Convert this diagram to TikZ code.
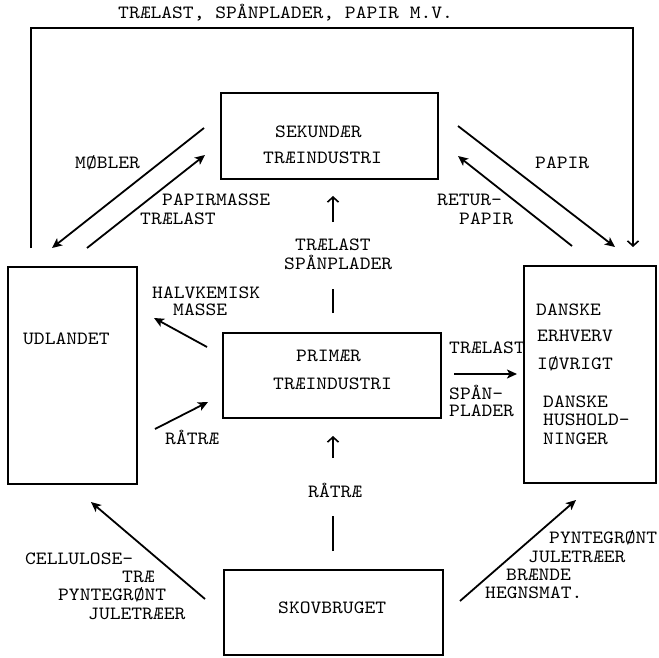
\documentclass[tikz,border=0pt]{standalone}
\usepackage{fontspec}
\setmonofont{lmmono10-regular.otf}[FakeStretch=1.1]
\usetikzlibrary{arrows.meta}
\begin{document}
\begin{tikzpicture}[x=1pt,y=-1pt,
  box/.style={draw,line width=2.2pt,inner sep=0pt,minimum width=#1},
  txt/.style={anchor=base west,inner sep=0pt,font=\fontsize{18.7}{20}\selectfont\ttfamily},
  flow/.style={line width=1.8pt,-{Stealth[length=10pt,width=9pt,inset=2.5pt]}},
  vflow/.style={line width=1.6pt,-{Straight Barb[length=5pt,width=11pt,line width=1.6pt]}},
  plain/.style={line width=1.6pt}]
\useasboundingbox (0,0) rectangle (659,658);
% boxes
\node[box=217pt,minimum height=86pt] (sek) at (329.5,136) {};
\node[box=129pt,minimum height=217pt] (udl) at (72.5,375.5) {};
\node[box=218pt,minimum height=85pt] (pri) at (332,375.5) {};
\node[box=219pt,minimum height=85pt] (skov) at (333.5,612.5) {};
\node[box=132pt,minimum height=217pt] (dan) at (590,374.5) {};
% box texts
\node[txt] (t1) at (275,138) {SEKUNDÆR};
\node[txt] (t2) at (263,164) {TRÆINDUSTRI};
\node[txt] (t3) at (296,361) {PRIMÆR};
\node[txt] (t4) at (273,389) {TRÆINDUSTRI};
\node[txt] (t5) at (278,613) {SKOVBRUGET};
\node[txt] (t6) at (23,344) {UDLANDET};
\node[txt] (t7) at (536,315) {DANSKE};
\node[txt] (t8) at (537,341) {ERHVERV};
\node[txt] (t9) at (537,369) {IØVRIGT};
\node[txt] (t10) at (543,407) {DANSKE};
\node[txt] (t11) at (543,425) {HUSHOLD-};
\node[txt] (t12) at (543,444) {NINGER};
% labels
\node[txt] (l0) at (118,19) {TRÆLAST, SPÅNPLADER, PAPIR M.V.};
\node[txt] (l1) at (75,169) {MØBLER};
\node[txt] (l2) at (162,205) {PAPIRMASSE};
\node[txt] (l3) at (140,224) {TRÆLAST};
\node[txt] (l4) at (295,251) {TRÆLAST};
\node[txt] (l5) at (284,269) {SPÅNPLADER};
\node[txt] (l6) at (535,168) {PAPIR};
\node[txt] (l7) at (437,205) {RETUR-};
\node[txt] (l8) at (459,224) {PAPIR};
\node[txt] (l9) at (152,298) {HALVKEMISK};
\node[txt] (l10) at (173,315) {MASSE};
\node[txt] (l11) at (449,353) {TRÆLAST};
\node[txt] (l12) at (449,399) {SPÅN-};
\node[txt] (l13) at (449,416) {PLADER};
\node[txt] (l14) at (165,444) {RÅTRÆ};
\node[txt] (l15) at (308,497) {RÅTRÆ};
\node[txt] (l16) at (25,564) {CELLULOSE-};
\node[txt] (l17) at (122,582) {TRÆ};
\node[txt] (l18) at (58,600) {PYNTEGRØNT};
\node[txt] (l19) at (88,619) {JULETRÆER};
\node[txt] (l20) at (549,543) {PYNTEGRØNT};
\node[txt] (l21) at (528,562) {JULETRÆER};
\node[txt] (l22) at (506,580) {BRÆNDE};
\node[txt] (l23) at (485,598) {HEGNSMAT.};
% coordinates
\coordinate (fL) at (31,248);
\coordinate (fTL) at (31,28);
\coordinate (fTR) at (633,28);
\coordinate (fR) at (633,247);
\coordinate (a1s) at (204,128); \coordinate (a1e) at (52,248);
\coordinate (a2s) at (87,248); \coordinate (a2e) at (205,155);
\coordinate (a3s) at (458,126); \coordinate (a3e) at (615,247);
\coordinate (a4s) at (572,246); \coordinate (a4e) at (458,156);
\coordinate (a5s) at (207,347); \coordinate (a5e) at (154,318);
\coordinate (a6s) at (155,429); \coordinate (a6e) at (208,402);
\coordinate (a7s) at (333,313); \coordinate (a7g1) at (333,289); \coordinate (a7g2) at (333,222); \coordinate (a7e) at (333,196);
\coordinate (a8s) at (454,374); \coordinate (a8e) at (517,374);
\coordinate (a9s) at (333,551); \coordinate (a9g1) at (333,516); \coordinate (a9g2) at (333,458); \coordinate (a9e) at (333,436);
\coordinate (a10s) at (205,599); \coordinate (a10e) at (91,502);
\coordinate (a11s) at (460,601); \coordinate (a11e) at (576,500);
% connectors
\draw[line width=1.6pt,-{Straight Barb[length=5pt,width=11pt,line width=1.6pt]}] (fL) -- (fTL) -- (fTR) -- (fR);
\draw[flow] (a1s) -- (a1e);
\draw[flow] (a2s) -- (a2e);
\draw[flow] (a3s) -- (a3e);
\draw[flow] (a4s) -- (a4e);
\draw[flow] (a5s) -- (a5e);
\draw[flow] (a6s) -- (a6e);
\draw[plain] (a7s) -- (a7g1);
\draw[vflow] (a7g2) -- (a7e);
\draw[flow] (a8s) -- (a8e);
\draw[plain] (a9s) -- (a9g1);
\draw[vflow] (a9g2) -- (a9e);
\draw[flow] (a10s) -- (a10e);
\draw[flow] (a11s) -- (a11e);
\end{tikzpicture}
\end{document}
